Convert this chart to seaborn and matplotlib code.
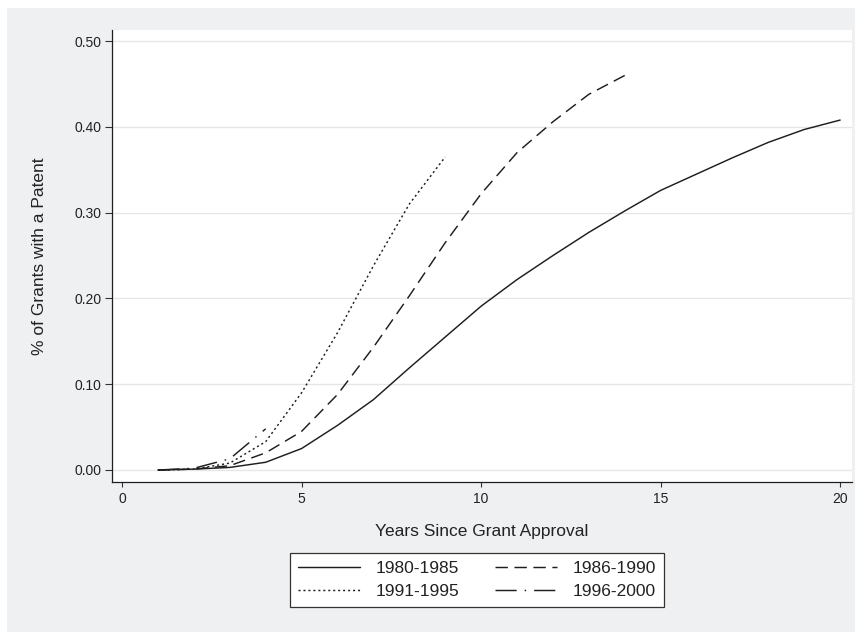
import matplotlib.pyplot as plt
import pandas as pd
import seaborn as sns
from matplotlib.patches import Rectangle

# Share of grants with a patent, by years since approval, for each grant cohort
years_8085 = list(range(1, 21))
share_8085 = [0.000, 0.001, 0.003, 0.009, 0.025, 0.052, 0.082, 0.119, 0.155, 0.191,
              0.222, 0.250, 0.277, 0.302, 0.326, 0.345, 0.364, 0.382, 0.397, 0.408]
years_8690 = list(range(1, 15))
share_8690 = [0.000, 0.001, 0.005, 0.020, 0.045, 0.088, 0.143, 0.203, 0.265, 0.322,
              0.370, 0.406, 0.438, 0.460]
years_9195 = list(range(1, 10))
share_9195 = [0.000, 0.001, 0.008, 0.033, 0.090, 0.160, 0.238, 0.310, 0.365]
years_9600 = list(range(1, 5))
share_9600 = [0.000, 0.002, 0.013, 0.048]

periods = ["1980-1985", "1986-1990", "1991-1995", "1996-2000"]
x_ticks = [0, 5, 10, 15, 20]
y_ticks = [0.0, 0.1, 0.2, 0.3, 0.4, 0.5]

frames = []
for label, xs, ys in zip(periods,
                         [years_8085, years_8690, years_9195, years_9600],
                         [share_8085, share_8690, share_9195, share_9600]):
    frames.append(pd.DataFrame({"years": xs, "share": ys, "period": label}))
df = pd.concat(frames, ignore_index=True)

sns.set_theme(style="ticks")
plt.rcParams["font.family"] = ["Liberation Sans", "DejaVu Sans"]

bg = "#eff0f2"
ink = "#1e1e1e"

fig = plt.figure(figsize=(8.65, 6.32), dpi=100, facecolor="white")
# Stata-style gray graph region
fig.patches.append(Rectangle((7 / 865, 0), 848 / 865, 1 - 8 / 632,
                             transform=fig.transFigure, facecolor=bg,
                             edgecolor="none", zorder=-10))
ax = fig.add_axes([112 / 865, 1 - 482 / 632, 740 / 865, 452 / 632])
ax.set_facecolor("white")

line_dashes = {
    "1980-1985": "",
    "1986-1990": (8.5, 4.5),
    "1991-1995": (1.4, 2.0),
    "1996-2000": (14.5, 5.5, 1, 5.5),
}
sns.lineplot(data=df, x="years", y="share", style="period", style_order=periods,
             dashes=line_dashes, color=ink, linewidth=1.05, ax=ax)

ax.set_xlim(-0.28, 20.33)
ax.set_ylim(-0.014, 0.513)
ax.set_xticks(x_ticks)
ax.set_yticks(y_ticks)
ax.set_yticklabels([f"{v:.2f}" for v in y_ticks])
ax.grid(axis="y", color="#e6e6e6", linewidth=1.0)
ax.set_axisbelow(True)

for side in ["top", "right"]:
    ax.spines[side].set_visible(False)
for side in ["left", "bottom"]:
    ax.spines[side].set_color(ink)
    ax.spines[side].set_linewidth(0.9)

ax.tick_params(axis="y", length=5, width=0.8, color="#333333", pad=2.5,
               labelsize=10, labelcolor="#222222")
ax.tick_params(axis="x", length=3.5, width=0.8, color="#333333", pad=3.5,
               labelsize=10, labelcolor="#222222")

ax.set_xlabel("Years Since Grant Approval", fontsize=12.5, color="#222222", labelpad=13.5)
ax.set_ylabel("% of Grants with a Patent", fontsize=12.5, color="#222222", labelpad=20)

handles, labels = ax.get_legend_handles_labels()
ax.get_legend().remove()
lookup = dict(zip(labels, handles))
order = ["1980-1985", "1991-1995", "1986-1990", "1996-2000"]
leg = fig.legend([lookup[k] for k in order], order, ncol=2, loc="center",
                 bbox_to_anchor=(477 / 865, 1 - 580 / 632), fontsize=12.5,
                 frameon=True, fancybox=False, framealpha=1,
                 handlelength=3.6, handletextpad=0.9, columnspacing=2.0,
                 labelspacing=0.45, borderpad=0.45)
leg.get_frame().set_edgecolor("#333333")
leg.get_frame().set_linewidth(0.9)
for t in leg.get_texts():
    t.set_color("#222222")

fig.savefig("out.png", dpi=100, facecolor=fig.get_facecolor())
